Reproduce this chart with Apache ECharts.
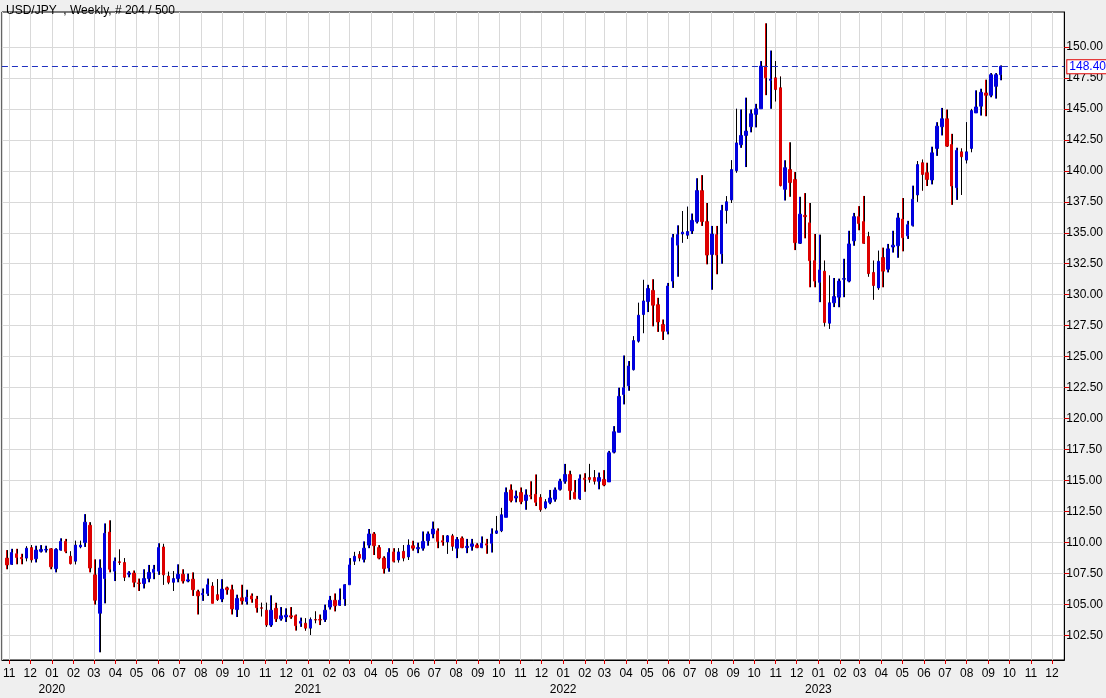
<!DOCTYPE html>
<html><head><meta charset="utf-8">
<script src="https://cdn.jsdelivr.net/npm/echarts@6/dist/echarts.min.js"></script>
<style>html,body{margin:0;padding:0;background:#efefef}#c{width:1106px;height:698px}</style>
</head><body><div id="c"></div>
<script>
const opens=[108.75,108.25,109.1,108.8,108.75,109.6,108.7,109.3,109.4,109.5,107.9,109.4,110.1,108.9,108.5,109.65,110.0,111.4,107.4,104.3,107.1,110.85,107.7,108.45,108.4,107.45,107.55,106.75,106.7,107.1,107.6,107.7,109.65,107.3,106.8,107.1,107.45,106.9,107.05,106.05,105.8,105.9,106.5,105.8,105.45,106.35,106.2,104.6,105.55,105.25,
105.7,105.45,104.75,104.55,103.35,104.7,103.85,104.0,104.1,104.1,103.5,103.5,103.1,103.8,103.8,103.8,104.8,105.35,104.95,105.45,106.6,108.5,109.05,108.65,109.8,110.7,109.6,108.75,107.95,109.25,108.6,109.3,108.85,109.75,109.5,109.55,110.15,110.7,110.95,110.15,110.05,110.55,109.55,110.35,109.6,109.7,109.8,109.6,109.9,109.95,110.75,110.95,
112.04,114.25,113.6,114.05,113.4,113.8,113.9,113.65,112.8,113.25,113.5,114.3,114.95,115.5,114.05,113.55,115.2,115.25,115.25,114.95,115.1,114.9,117.3,118.9,121.95,122.65,123.95,126.25,128.4,129.45,130.35,129.2,127.6,127.05,
131.1,134.0,134.9,134.8,135.15,135.9,138.4,135.9,133.25,134.85,133.3,136.8,137.65,140.0,142.1,142.85,143.55,144.55,145.0,148.45,147.3,147.5,146.7,138.5,140.1,139.3,134.15,136.4,135.8,132.75,131.0,131.9,127.7,129.35,
129.8,131.25,131.1,134.35,136.3,135.9,134.7,131.8,130.55,133.0,132.05,133.85,133.95,136.1,134.75,135.6,138.05,140.65,139.85,139.26,141.8,143.55,144.2,142.12,138.64,141.53,140.86,141.8,144.67,145.21,146.28,146.09,146.81,147.75];
const closes=[108.2,109.2,108.8,108.7,109.55,108.6,109.4,109.45,109.45,108.05,109.45,110.1,109.3,108.3,109.8,109.8,111.65,107.95,105.35,107.95,110.75,107.85,108.5,108.4,107.2,107.55,106.8,106.7,107.1,107.6,107.85,109.6,107.4,106.8,107.1,107.45,106.9,107.0,106.2,105.7,105.9,106.6,105.1,105.4,106.25,106.2,104.65,105.5,105.3,105.6,
105.45,104.75,104.7,103.35,104.55,103.85,104.1,104.15,104.0,103.3,103.65,103.1,103.8,103.75,103.75,104.55,105.35,104.9,105.35,106.6,108.2,108.9,108.75,109.55,110.7,109.75,108.75,107.9,109.2,108.5,109.25,108.75,109.8,109.55,109.6,110.1,110.7,111.1,110.1,110.05,110.55,109.7,110.25,109.6,109.7,109.9,109.6,109.95,109.8,110.7,110.95,112.25,
114.05,113.4,113.75,113.3,113.85,113.75,113.25,112.65,113.3,113.6,114.25,114.95,115.5,114.2,113.55,115.15,115.1,115.1,114.95,115.25,114.65,117.25,118.95,121.8,122.5,124.25,126.3,128.35,129.5,130.5,129.15,127.8,127.05,130.7,
134.6,134.85,135.05,135.1,136.0,138.4,135.9,133.2,134.9,133.2,136.8,137.5,140.1,142.25,142.85,143.2,144.6,145.0,148.45,147.5,147.4,146.55,138.8,140.25,139.05,134.2,136.5,136.3,132.75,131.1,132.0,127.75,129.35,129.85,
131.1,131.3,134.1,136.3,135.75,134.15,131.7,130.74,132.7,131.9,133.7,134.0,136.2,134.6,135.65,137.7,140.5,139.7,139.3,141.45,143.6,144.2,141.99,138.77,141.64,141.13,141.53,144.86,145.15,146.33,146.09,147.75,147.75,148.42];
const lows=[107.85,108.2,108.25,108.25,108.5,108.4,108.4,109.2,109.2,107.85,107.6,109.35,109.15,108.25,108.25,109.55,109.65,107.6,105.0,101.15,105.1,107.6,106.9,108.2,106.9,107.2,106.4,106.1,106.3,106.8,107.05,107.4,106.6,106.65,106.1,106.8,106.7,106.8,105.7,104.2,105.3,105.7,105.1,105.3,105.2,105.8,104.2,104.0,105.0,105.0,
105.15,104.35,104.05,103.2,103.2,103.6,103.7,103.6,103.85,102.9,103.2,102.9,102.55,103.5,103.35,103.6,104.6,104.45,104.9,104.9,106.6,108.2,108.5,108.4,109.55,109.0,108.65,107.5,107.65,108.4,108.4,108.5,108.6,109.35,109.15,109.35,109.75,110.35,109.55,109.75,109.1,109.35,108.75,109.55,109.15,109.35,109.55,109.55,109.1,109.2,110.7,110.85,
112.04,113.25,113.25,113.1,112.65,113.5,112.95,112.5,112.7,113.1,113.3,114.2,114.75,113.45,113.5,113.45,114.1,114.85,114.7,114.3,114.55,114.9,117.2,118.9,121.15,122.25,123.9,126.15,126.9,128.6,127.45,127.0,126.35,126.8,
130.55,131.45,134.2,134.5,134.9,135.75,135.55,132.45,130.4,131.65,132.5,135.75,137.4,139.85,141.85,140.3,143.1,143.5,145.0,146.1,145.0,145.6,138.75,137.6,137.9,133.6,134.1,134.55,130.6,130.6,129.4,127.45,127.25,129.0,
128.99,129.8,131.0,133.95,135.2,134.1,131.46,129.6,130.4,130.6,131.8,133.4,132.98,133.5,134.5,135.5,137.5,138.4,138.77,138.9,141.2,142.85,141.93,137.25,137.65,138.05,140.6,141.5,144.67,144.45,144.4,145.93,145.82,147.3];
const highs=[109.4,109.5,109.5,109.1,109.7,109.8,109.75,109.8,109.75,109.55,109.55,110.35,110.3,109.3,110.15,110.15,112.3,111.65,108.65,108.65,111.55,111.8,108.8,109.45,108.75,107.7,107.75,107.1,107.85,108.2,108.2,109.95,109.9,107.65,107.7,108.25,107.85,107.5,107.6,106.2,106.3,107.1,106.8,107.05,107.05,106.45,106.6,105.8,106.6,106.2,
105.9,105.7,105.15,105.15,105.75,105.15,104.8,104.7,104.8,104.2,103.95,103.9,103.95,104.45,104.2,105.0,105.7,105.9,106.3,106.65,108.75,109.25,109.3,110.1,111.1,110.85,109.8,108.9,109.55,109.55,109.55,109.8,110.25,110.15,110.0,110.9,110.9,111.7,111.15,110.6,110.6,110.7,110.45,110.5,110.3,110.3,109.95,110.5,110.3,111.15,112.15,112.8,
114.45,114.7,114.2,114.45,114.3,114.95,115.5,113.9,113.5,114.25,114.45,115.15,116.35,115.8,115.05,115.5,115.6,116.35,115.85,115.65,115.85,117.4,119.4,122.5,125.1,124.65,126.65,129.35,131.2,130.8,131.25,129.75,128.0,130.95,
134.9,135.6,136.75,137.1,136.55,139.4,139.65,137.4,135.55,135.55,137.25,137.95,140.85,145.0,144.95,145.9,144.95,145.4,148.85,151.9,149.7,148.85,147.6,140.85,142.3,139.9,137.9,138.2,137.4,134.9,134.85,132.75,131.55,131.35,
131.3,132.9,135.16,136.6,137.15,137.97,135.07,132.75,133.55,133.8,134.1,135.16,136.6,137.8,135.96,138.8,140.78,140.9,140.65,141.94,143.92,145.07,144.94,142.98,141.86,141.8,143.92,144.99,146.49,146.62,147.35,147.88,147.88,148.5];
const yTicks=[102.5,105,107.5,110,112.5,115,117.5,120,122.5,125,127.5,130,132.5,135,137.5,140,142.5,145,147.5,150];
const lastPrice=148.40;
const titleText='USD/JPY  , Weekly, # 204 / 500';

const DAY=86400000;
const t0=Date.UTC(2019,9,28,14);
const dates=opens.map((_,i)=>t0+i*7*DAY);
const ohlc=opens.map((o,i)=>[dates[i],o,closes[i],lows[i],highs[i]]);
const wickData=opens.map((o,i)=>[dates[i],o,closes[i],lows[i],highs[i]]);
const xmin=t0-7*DAY, xmax=t0+(opens.length-1+13)*7*DAY;

const chart=echarts.init(document.getElementById('c'));
chart.setOption({
  backgroundColor:'#efefef',
  animation:false,
  textStyle:{fontFamily:'Liberation Sans, Arial, sans-serif'},
  title:{text:titleText,left:1,top:0,textStyle:{fontSize:12,fontWeight:'normal',color:'#000',fontFamily:'Liberation Sans, Arial, sans-serif'}},
  grid:{left:1,right:40,top:12,bottom:35.5,show:true,backgroundColor:'#fff',borderColor:'#000',borderWidth:1},
  xAxis:{type:'time',min:xmin,max:xmax,minInterval:28*DAY,maxInterval:31*DAY,
    axisLine:{show:true,lineStyle:{color:'#000'}},
    axisTick:{show:true,length:4,lineStyle:{color:'#e00000'}},
    splitLine:{show:true,lineStyle:{color:'#d9d9d9',width:1}},
    axisLabel:{color:'#000',fontSize:12,margin:6,lineHeight:16,hideOverlap:false,
      formatter:function(v){const d=new Date(v);const m=d.getUTCMonth()+1;const mm=(m<10?'0':'')+m;return m===1?mm+'\n'+d.getUTCFullYear():mm;}}
  },
  yAxis:{type:'value',position:'right',min:100.53,max:152.81,scale:true,
    axisLine:{show:true,lineStyle:{color:'#000'}},
    axisTick:{show:true,length:5,customValues:yTicks,lineStyle:{color:'#e00000'}},
    axisLabel:{show:true,customValues:yTicks,color:'#000',fontSize:12,margin:2,formatter:v=>v.toFixed(2)},
    splitLine:{show:true,lineStyle:{color:'#d9d9d9',width:1}}
  },
  series:[
    {type:'candlestick',name:'USD/JPY',data:ohlc,encode:{x:0,y:[1,2,3,4]},barWidth:3,
      itemStyle:{color:'#0000dd',color0:'#dd0000',borderColor:'#0000dd',borderColor0:'#dd0000',borderWidth:1},
      markLine:{symbol:'none',silent:true,data:[{yAxis:lastPrice}],
        lineStyle:{color:'#2030c0',type:[6,4],width:1},
        label:{position:'end',distance:3,formatter:lastPrice.toFixed(2),color:'#0000ff',fontSize:12,backgroundColor:'#fff',borderColor:'#e00000',borderWidth:1,padding:[1,2,0,2]}}
    },
    {type:'custom',name:'wicks',data:wickData,encode:{x:0,y:[1,2,3,4]},z:3,silent:true,
      renderItem:function(params,api){
        const x=api.value(0),o=api.value(1),c=api.value(2),l=api.value(3),h=api.value(4);
        const top=api.coord([x,Math.max(o,c)]),bot=api.coord([x,Math.min(o,c)]);
        const pl=api.coord([x,l]),ph=api.coord([x,h]);
        const px=Math.round(top[0])+0.5;
        return {type:'group',children:[
          {type:'line',shape:{x1:px,y1:ph[1],x2:px,y2:top[1]},style:{stroke:'#000',lineWidth:1}},
          {type:'line',shape:{x1:px,y1:bot[1],x2:px,y2:pl[1]},style:{stroke:'#000',lineWidth:1}}
        ]};
      }}
  ]
});
</script></body></html>
